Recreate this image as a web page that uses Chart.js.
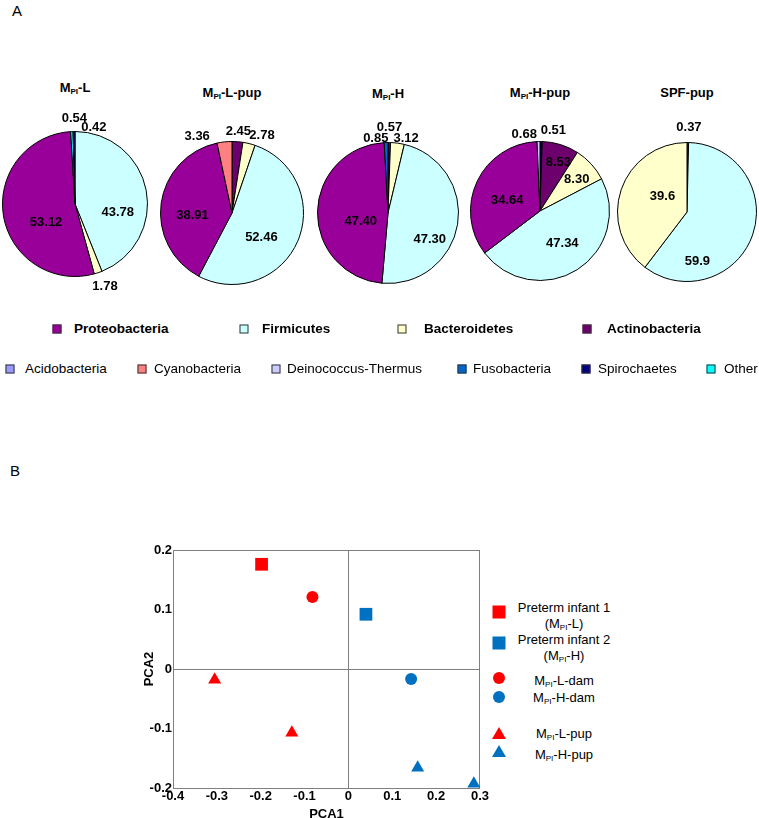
<!DOCTYPE html>
<html>
<head>
<meta charset="utf-8">
<script src="https://cdn.jsdelivr.net/npm/chart.js@4/dist/chart.umd.min.js"></script>
<style>
  html, body { margin: 0; padding: 0; background: #fff; overflow: hidden; }
  body { position: relative; width: 759px; height: 818px; font-family: "Liberation Sans", Arial, sans-serif; color: #000; }
  canvas { position: absolute; }
  .txt { position: absolute; white-space: nowrap; transform: translate(-50%, -50%); line-height: 1; }
  .left { position: absolute; white-space: nowrap; transform: translateY(-50%); line-height: 1; }
  sub { font-size: 0.62em; vertical-align: -0.25em; line-height: 0; }
  .sq { position: absolute; width: 7px; height: 7px; border: 1px solid #333; transform: translate(-50%, -50%); }
  .mk { position: absolute; transform: translate(-50%, -50%); }
</style>
</head>
<body>
<div class="left" style="left:12px;top:10px;font-size:15px;">A</div>
<div class="left" style="left:10px;top:470px;font-size:15px;">B</div>
<div id="pieTitles"></div>
<canvas id="pie0"></canvas>
<canvas id="pie1"></canvas>
<canvas id="pie2"></canvas>
<canvas id="pie3"></canvas>
<canvas id="pie4"></canvas>
<div id="pieLegend"></div>
<canvas id="pca"></canvas>
<div id="pcaLegend"></div>
<script>
// phyla, legend order
const taxa = ['Proteobacteria', 'Firmicutes', 'Bacteroidetes', 'Actinobacteria', 'Acidobacteria',
  'Cyanobacteria', 'Deinococcus-Thermus', 'Fusobacteria', 'Spirochaetes', 'Other'];

// pie samples
const pieNames = ['M_PI-L', 'M_PI-L-pup', 'M_PI-H', 'M_PI-H-pup', 'SPF-pup'];

// slices of each pie, clockwise from 12 o'clock, with the printed percentages
const mplTaxa = ['Firmicutes', 'Bacteroidetes', 'Proteobacteria', 'Other', 'Spirochaetes'];
const mplValues = ['43.78', '1.78', '53.12', '0.54', '0.42'];
const mplPupTaxa = ['Actinobacteria', 'Bacteroidetes', 'Firmicutes', 'Proteobacteria', 'Cyanobacteria'];
const mplPupValues = ['2.45', '2.78', '52.46', '38.91', '3.36'];
const mphTaxa = ['Actinobacteria', 'Bacteroidetes', 'Firmicutes', 'Proteobacteria', 'Fusobacteria'];
const mphValues = ['0.57', '3.12', '47.30', '47.40', '0.85'];
const mphPupTaxa = ['Spirochaetes', 'Actinobacteria', 'Bacteroidetes', 'Firmicutes', 'Proteobacteria', 'Deinococcus-Thermus'];
const mphPupValues = ['0.51', '8.53', '8.30', '47.34', '34.64', '0.68'];
const spfPupTaxa = ['Proteobacteria', 'Firmicutes', 'Bacteroidetes'];
const spfPupValues = ['0.37', '59.9', '39.6'];

// PCA groups and coordinates
const pcaGroups = ['Preterm infant 1 (M_PI-L)', 'Preterm infant 2 (M_PI-H)', 'M_PI-L-dam', 'M_PI-H-dam', 'M_PI-L-pup', 'M_PI-H-pup'];
const pca1 = [[-0.198], [0.040], [-0.082], [0.143], [-0.305, -0.129], [0.158, 0.286]];
const pca2 = [[0.176], [0.092], [0.121], [-0.017], [-0.018, -0.107], [-0.166, -0.193]];
const pca1Ticks = [-0.4, 0.3];
const pca2Ticks = [-0.2, 0.2];

// ---- styling / layout ----
const taxaColors = {
  'Proteobacteria': '#990099', 'Firmicutes': '#CCFFFF', 'Bacteroidetes': '#FFFFCC',
  'Actinobacteria': '#6E006E', 'Acidobacteria': '#9999FF', 'Cyanobacteria': '#FF8080',
  'Deinococcus-Thermus': '#CCCCFF', 'Fusobacteria': '#0066CC', 'Spirochaetes': '#000080', 'Other': '#00FFFF'
};
const pieTaxa = [mplTaxa, mplPupTaxa, mphTaxa, mphPupTaxa, spfPupTaxa];
const pieValues = [mplValues, mplPupValues, mphValues, mphPupValues, spfPupValues];
const pieBoxes = [
  {cx: 75, cy: 204, r: 73}, {cx: 232, cy: 213, r: 72}, {cx: 388, cy: 213, r: 71},
  {cx: 540, cy: 211, r: 70}, {cx: 687, cy: 212, r: 70}
];
const titleY = [87, 92, 93, 92, 92];
const labelShifts = [
  [[0, 17], [3, 2], [14, 11], [3, -1], [20, 8]],
  [[0, 2], [10, 4], [-10, 7], [3, 8], [-26, 6]],
  [[0, -3], [7, 7], [0, 20], [15, 9], [-10, 8]],
  [[12, 1], [6, -9], [6, -3], [0, -3], [5, 7], [-14, 5]],
  [[1, -3], [-29, 36], [15, -2]]
];

const subHtml = s => s.replace('_PI', '<sub>PI</sub>');

const sliceLabels = {
  id: 'sliceLabels',
  afterDatasetsDraw(chart, args, opts) {
    const ctx = chart.ctx;
    const meta = chart.getDatasetMeta(0);
    ctx.save();
    ctx.font = 'bold 13px "Liberation Sans", Arial, sans-serif';
    ctx.fillStyle = '#000';
    ctx.textAlign = 'center';
    ctx.textBaseline = 'middle';
    meta.data.forEach((arc, i) => {
      const p = arc.getProps(['x', 'y', 'startAngle', 'endAngle', 'outerRadius'], true);
      const mid = (p.startAngle + p.endAngle) / 2;
      const share = (p.endAngle - p.startAngle) / (2 * Math.PI);
      const d = share >= 0.05 ? p.outerRadius * 0.6 : p.outerRadius + 12;
      const s = opts.shifts[i] || [0, 0];
      ctx.fillText(opts.text[i], p.x + Math.cos(mid) * d + s[0], p.y + Math.sin(mid) * d + s[1]);
    });
    ctx.restore();
  }
};

// titles
const titleBox = document.getElementById('pieTitles');
pieNames.forEach((n, i) => {
  const d = document.createElement('div');
  d.className = 'txt';
  d.style.cssText = `left:${pieBoxes[i].cx}px;top:${titleY[i]}px;font-size:13px;font-weight:bold;`;
  d.innerHTML = subHtml(n);
  titleBox.appendChild(d);
});

// pies
pieBoxes.forEach((b, i) => {
  const cv = document.getElementById('pie' + i);
  const W = 180, H = 200, top = 100;
  cv.width = W; cv.height = H;
  cv.style.left = (b.cx - W / 2) + 'px';
  cv.style.top = top + 'px';
  new Chart(cv, {
    type: 'pie',
    data: {
      labels: pieTaxa[i],
      datasets: [{
        data: pieValues[i].map(Number),
        backgroundColor: pieTaxa[i].map(t => taxaColors[t]),
        borderColor: '#000',
        borderWidth: 1
      }]
    },
    options: {
      responsive: false,
      animation: false,
      events: [],
      layout: { padding: { left: W / 2 - b.r, right: W / 2 - b.r, top: b.cy - top - b.r, bottom: H - (b.cy - top) - b.r } },
      plugins: {
        legend: { display: false },
        tooltip: { enabled: false },
        sliceLabels: { text: pieValues[i], shifts: labelShifts[i] }
      }
    },
    plugins: [sliceLabels]
  });
});

// shared pie legend
const legendRows = [
  { y: 329, bold: true, items: [[57, 74], [244, 262], [402, 424], [587, 607]] },
  { y: 369, bold: false, items: [[10, 25], [142, 154], [276, 287], [462, 473], [586, 598], [711, 724]] }
];
const legendBox = document.getElementById('pieLegend');
let k = 0;
legendRows.forEach(row => {
  row.items.forEach(([mx, tx]) => {
    const t = taxa[k++];
    const sq = document.createElement('div');
    sq.className = 'sq';
    sq.style.cssText = `left:${mx}px;top:${row.y}px;background:${taxaColors[t]};`;
    legendBox.appendChild(sq);
    const lb = document.createElement('div');
    lb.className = 'left';
    lb.style.cssText = `left:${tx}px;top:${row.y}px;font-size:13.5px;font-weight:${row.bold ? 'bold' : 'normal'};`;
    lb.textContent = t;
    legendBox.appendChild(lb);
  });
});

// PCA scatter
const RED = '#FF0000', BLUE = '#0070C0';
const groupStyle = [
  { c: RED, s: 'rect', r: 9 }, { c: BLUE, s: 'rect', r: 9 },
  { c: RED, s: 'circle', r: 6 }, { c: BLUE, s: 'circle', r: 6 },
  { c: RED, s: 'triangle', r: 7.5 }, { c: BLUE, s: 'triangle', r: 7.5 }
];
const near = (a, b) => Math.abs(a - b) < 1e-6;
const frame = '#7F7F7F';
const pcv = document.getElementById('pca');
pcv.width = 360; pcv.height = 292;
pcv.style.left = '130px'; pcv.style.top = '530px';
new Chart(pcv, {
  type: 'scatter',
  data: {
    datasets: pcaGroups.map((g, i) => ({
      label: g,
      data: pca1[i].map((x, j) => ({ x, y: pca2[i][j] })),
      pointStyle: groupStyle[i].s,
      pointRadius: groupStyle[i].r,
      backgroundColor: groupStyle[i].c,
      borderColor: groupStyle[i].c,
      borderWidth: 0,
      clip: false
    }))
  },
  options: {
    responsive: false,
    animation: false,
    events: [],
    layout: { padding: { top: 20, right: 8, left: 0, bottom: 0 } },
    plugins: { legend: { display: false }, tooltip: { enabled: false } },
    scales: {
      x: {
        type: 'linear', min: pca1Ticks[0], max: pca1Ticks[1],
        ticks: { stepSize: 0.1, padding: 1, color: '#000', font: { size: 13, weight: 'bold', family: '"Liberation Sans", Arial' },
          maxRotation: 0, callback: v => near(v, 0) ? '0' : (+v).toFixed(1) },
        grid: { drawTicks: false, color: c => (near(c.tick.value, 0) || near(c.tick.value, pca1Ticks[1])) ? frame : 'rgba(0,0,0,0)' },
        border: { display: true, color: frame, width: 1 },
        title: { display: true, text: 'PCA1', color: '#000', padding: { top: 0, bottom: 0 }, font: { size: 13, weight: 'bold', family: '"Liberation Sans", Arial' } },
        afterFit: s => { s.height = 34; }
      },
      y: {
        type: 'linear', min: pca2Ticks[0], max: pca2Ticks[1],
        ticks: { stepSize: 0.1, padding: 1, color: '#000', font: { size: 13, weight: 'bold', family: '"Liberation Sans", Arial' },
          callback: v => near(v, 0) ? '0' : (+v).toFixed(1) },
        grid: { drawTicks: false, color: c => (near(c.tick.value, 0) || near(c.tick.value, pca2Ticks[1])) ? frame : 'rgba(0,0,0,0)' },
        border: { display: true, color: frame, width: 1 },
        title: { display: true, text: 'PCA2', color: '#000', padding: { top: 12, bottom: 0 }, font: { size: 13, weight: 'bold', family: '"Liberation Sans", Arial' } },
        afterFit: s => { s.width = 43; }
      }
    }
  }
});

// PCA legend
const pcaLegendY = [[612, [607, 623]], [643, [639, 655]], [678, [680]], [697, [697]], [733, [733]], [751, [754]]];
const pl = document.getElementById('pcaLegend');
pcaGroups.forEach((g, i) => {
  const st = groupStyle[i];
  const m = document.createElement('div');
  m.className = 'mk';
  let css = `left:499px;top:${pcaLegendY[i][0]}px;background:${st.c};`;
  if (st.s === 'rect') css += 'width:13px;height:13px;';
  else if (st.s === 'circle') css += 'width:12px;height:12px;border-radius:50%;';
  else css += 'width:14px;height:12px;clip-path:polygon(50% 0,100% 100%,0 100%);';
  m.style.cssText = css;
  pl.appendChild(m);
  const lines = g.match(/^(.*) (\(.*\))$/) ? [g.replace(/ \(.*\)$/, ''), g.match(/\(.*\)$/)[0]] : [g];
  lines.forEach((ln, j) => {
    const d = document.createElement('div');
    d.className = 'txt';
    d.style.cssText = `left:564px;top:${pcaLegendY[i][1][j]}px;font-size:13px;`;
    d.innerHTML = subHtml(ln);
    pl.appendChild(d);
  });
});
</script>
</body>
</html>
